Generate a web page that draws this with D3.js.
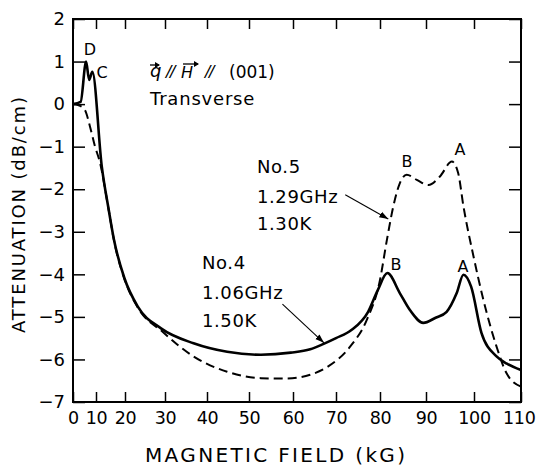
<!DOCTYPE html>
<html>
<head>
<meta charset="utf-8">
<script src="https://cdn.jsdelivr.net/npm/d3@7"></script>
<style>
  html, body { margin: 0; padding: 0; background: #fff; }
  svg { display: block; font-family: "DejaVu Sans", sans-serif; }
</style>
</head>
<body>
<svg id="chart" width="537" height="466"></svg>
<script>
// ---------------- data ----------------
const xTicks = [0, 10, 20, 30, 40, 50, 60, 70, 80, 90, 100, 110];
const yTicks = [2, 1, 0, -1, -2, -3, -4, -5, -6, -7];

// No.4  1.06 GHz  1.50 K  (solid)
const fieldNo4 = [0, 3.3, 5.7, 7.0, 8.4, 12, 14.4, 16.2, 19.75, 23.2, 29, 36.8, 44.8, 52.7, 59.5, 64, 67, 70, 73.5, 77.3, 79.5, 81.6, 84.3, 86.5, 89.4, 92, 94.3, 96.4, 97.8, 99.4, 101.6, 104.8, 107, 110];
const attenNo4 = [0, 0.05, 1.0, 0.57, 0.76, -1.47, -2.49, -3.19, -4.08, -4.76, -5.27, -5.62, -5.82, -5.89, -5.84, -5.76, -5.64, -5.5, -5.31, -4.88, -4.37, -3.97, -4.44, -4.84, -5.14, -5.02, -4.88, -4.44, -4.01, -4.29, -5.38, -5.93, -6.1, -6.25];

// No.5  1.29 GHz  1.30 K  (dashed)
const fieldNo5 = [0, 2.5, 5.2, 7.4, 9.6, 11.4, 14.4, 16.2, 19.75, 23.2, 29.4, 36.8, 44.8, 52.7, 58, 61.6, 64, 68.1, 73.2, 77, 80, 81.5, 82.9, 84.3, 85.8, 88, 90.5, 92.9, 95.4, 96.7, 97.8, 99.9, 102, 104.8, 106.9, 110];
const attenNo5 = [0, -0.03, -0.14, -0.53, -1.0, -1.38, -2.5, -3.2, -4.1, -4.78, -5.35, -5.93, -6.29, -6.44, -6.45, -6.42, -6.36, -6.17, -5.70, -5.07, -4.13, -3.19, -2.40, -1.86, -1.66, -1.78, -1.90, -1.70, -1.35, -1.62, -2.40, -3.58, -4.6, -5.70, -6.32, -6.64];

// ---------------- layout ----------------
const svg = d3.select("#chart");
const pL = 73, pR = 521, pT = 19, pB = 402;
// the original field axis is not uniformly spaced; calibrate on its ticks
const xTickPx = [73, 96, 125, 165, 207, 249, 293, 336, 380, 426, 474, 521];
const x = d3.scaleLinear().domain(xTicks).range(xTickPx);
const y = d3.scaleLinear().domain([-7, 2]).range([pB, pT]);

const fmt = d => (d < 0 ? "\u2212" + Math.abs(d) : String(d));

// axes (ticks pointing inward)
const gB = svg.append("g").attr("transform", `translate(0,${pB})`)
  .call(d3.axisBottom(x).tickValues(xTicks).tickSize(-10).tickPadding(10).tickFormat(d => String(d)));
const gT = svg.append("g").attr("transform", `translate(0,${pT})`)
  .call(d3.axisTop(x).tickValues(xTicks).tickSize(-10).tickFormat(""));
const gL = svg.append("g").attr("transform", `translate(${pL},0)`)
  .call(d3.axisLeft(y).tickValues(yTicks).tickSize(-12).tickPadding(8).tickFormat(fmt));
const gR = svg.append("g").attr("transform", `translate(${pR},0)`)
  .call(d3.axisRight(y).tickValues(yTicks).tickSize(-12).tickFormat(""));
[gB, gT, gL, gR].forEach(g => {
  g.select(".domain").remove();
  g.selectAll(".tick line").attr("stroke", "#000").attr("stroke-width", 1.5);
  g.selectAll(".tick text").attr("font-family", "DejaVu Sans").attr("font-size", 18).attr("fill", "#000");
});
gB.selectAll(".tick text").attr("font-size", 17.5).attr("letter-spacing", -0.3);
gB.selectAll(".tick text").filter(d => d === 110).attr("text-anchor", "end").attr("x", 14);

// frame
svg.append("rect").attr("x", pL).attr("y", pT)
  .attr("width", pR - pL).attr("height", pB - pT)
  .attr("fill", "none").attr("stroke", "#000").attr("stroke-width", 2);

// curves
const line = d3.line().x(d => x(d[0])).y(d => y(d[1])).curve(d3.curveMonotoneX);
svg.append("path").datum(d3.zip(fieldNo4, attenNo4))
  .attr("d", line).attr("fill", "none").attr("stroke", "#000").attr("stroke-width", 2.6)
  .attr("stroke-linejoin", "round");
svg.append("path").datum(d3.zip(fieldNo5, attenNo5))
  .attr("d", line).attr("fill", "none").attr("stroke", "#000").attr("stroke-width", 2)
  .attr("stroke-dasharray", "9,5");

// arrows
const defs = svg.append("defs");
defs.append("marker").attr("id", "ah").attr("viewBox", "0 0 10 10")
  .attr("refX", 10).attr("refY", 5).attr("markerWidth", 9).attr("markerHeight", 9)
  .attr("markerUnits", "userSpaceOnUse").attr("orient", "auto")
  .append("path").attr("d", "M0,1.5 L10,5 L0,8.5 Z").attr("fill", "#000");
const arrows = [
  [[72.1, -2.13], [81.8, -2.70]],
  [[57.6, -4.70], [67.2, -5.61]]
];
arrows.forEach(a => {
  svg.append("line")
    .attr("x1", x(a[0][0])).attr("y1", y(a[0][1]))
    .attr("x2", x(a[1][0])).attr("y2", y(a[1][1]))
    .attr("stroke", "#000").attr("stroke-width", 1.1).attr("marker-end", "url(#ah)");
});

// axis titles
svg.append("text").attr("x", 275).attr("y", 462).attr("text-anchor", "middle")
  .attr("font-size", 20).attr("textLength", 260).attr("lengthAdjust", "spacing")
  .text("MAGNETIC FIELD (kG)");
svg.append("text").attr("transform", "translate(25,215) rotate(-90)").attr("text-anchor", "middle")
  .attr("font-size", 18).attr("textLength", 236).attr("lengthAdjust", "spacing")
  .text("ATTENUATION (dB/cm)");

// peak labels
const peakLabels = [
  ["D", 90, 55], ["C", 102, 78],
  ["B", 407, 167], ["A", 460, 155],
  ["B", 396, 270], ["A", 463, 272]
];
peakLabels.forEach(p => {
  svg.append("text").attr("x", p[1]).attr("y", p[2]).attr("text-anchor", "middle")
    .attr("font-size", 16).text(p[0]);
});

// sample blocks
const block = (lines, x0, ys) => lines.forEach((t, i) =>
  svg.append("text").attr("x", x0).attr("y", ys[i]).attr("font-size", 18)
    .attr("letter-spacing", 0.6).text(t));
block(["No.5", "1.29GHz", "1.30K"], 257, [173, 203, 230]);
block(["No.4", "1.06GHz", "1.50K"], 202, [269, 299, 327]);

// geometry label  q // H // (001)
const g = svg.append("g");
g.append("text").attr("x", 150).attr("y", 77).attr("font-size", 18).attr("font-style", "italic").text("q");
g.append("text").attr("x", 166).attr("y", 77).attr("font-size", 16).attr("font-style", "italic").attr("letter-spacing", -1.5).text("//");
g.append("text").attr("x", 181).attr("y", 78).attr("font-size", 16).attr("font-style", "italic").text("H");
g.append("text").attr("x", 205).attr("y", 77).attr("font-size", 16).attr("font-style", "italic").attr("letter-spacing", -1.5).text("//");
g.append("text").attr("x", 229).attr("y", 78).attr("font-size", 17).text("(001)");
[[150, 159, 65], [183, 198, 64]].forEach(a => {
  g.append("line").attr("x1", a[0]).attr("y1", a[2]).attr("x2", a[1]).attr("y2", a[2])
    .attr("stroke", "#000").attr("stroke-width", 1.3);
  g.append("path").attr("d", `M${a[1] + 1},${a[2]} L${a[1] - 4},${a[2] - 3} L${a[1] - 4},${a[2] + 3} Z`).attr("fill", "#000");
});
svg.append("text").attr("x", 150).attr("y", 105).attr("font-size", 18).attr("letter-spacing", 0.8).text("Transverse");
</script>
</body>
</html>
